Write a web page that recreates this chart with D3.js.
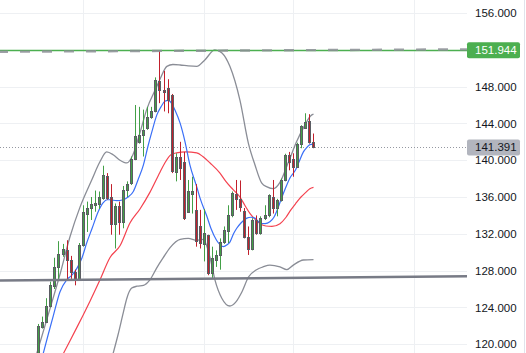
<!DOCTYPE html>
<html><head><meta charset="utf-8">
<script src="https://cdn.jsdelivr.net/npm/d3@7"></script>
<style>html,body{margin:0;padding:0;background:#fff;overflow:hidden}svg{display:block}</style>
</head><body>
<svg id="c" width="526" height="353"></svg>
<script>
// ---- data ----
const opens  = [118.8,121.9,122.45,124.2,126.3,128.4,129.8,130.2,129.2,127.9,127.0,130.8,134.2,134.8,135.1,135.2,135.9,138.3,136.0,133.1,135.0,133.3,136.8,137.5,140.1,142.0,142.7,143.5,144.7,145.3,148.6,147.6,147.8,147.1,138.75,140.3,139.8,134.4,136.3,134.6,132.8,130.9,131.9,127.7,129.2,129.7,131.1,132.3,134.0,136.3,135.8,134.5,131.7,130.4,133.5,132.05,133.7,134.0,136.0,134.8,135.65,137.85,140.6,140.1,139.3,141.8,143.5,144.3,142.0];
const highs  = [122.2,123.0,125.0,126.8,129.4,131.2,130.9,131.3,129.6,128.1,131.0,135.1,135.5,136.0,136.7,136.6,139.4,138.6,137.4,135.3,135.5,137.2,137.7,140.4,146.0,145.8,145.5,145.8,145.8,149.0,151.944,149.7,148.8,147.2,140.75,142.0,140.9,137.85,138.2,137.4,134.6,134.7,131.9,130.6,130.2,131.5,132.8,135.1,136.6,137.85,137.8,134.8,132.8,133.7,134.0,133.9,135.1,136.3,137.85,135.8,138.0,140.7,140.9,140.75,141.9,143.8,145.1,145.0,142.9];
const lows   = [117.5,121.7,122.3,124.0,126.0,127.0,129.5,127.0,127.1,126.4,127.0,130.6,132.2,133.5,134.4,134.7,135.7,135.7,131.9,130.4,131.9,132.6,136.0,137.3,140.0,141.8,140.4,143.3,144.5,145.2,146.2,145.3,145.1,138.6,137.7,137.85,133.5,134.3,134.2,130.6,130.4,129.0,127.5,127.2,128.4,128.1,130.9,131.0,133.8,134.6,134.4,131.5,129.7,130.2,131.9,131.9,133.5,133.8,134.2,133.9,135.5,137.7,138.9,138.2,139.2,141.3,143.4,141.8,141.3];
const closes = [122.0,122.4,124.15,126.4,128.4,129.8,130.4,129.2,127.8,127.0,130.8,134.4,134.8,135.2,135.35,136.0,138.4,135.9,133.1,135.0,133.3,136.8,137.4,140.1,142.6,142.7,143.3,144.7,145.4,148.7,147.6,147.4,146.5,138.8,140.4,139.1,133.7,136.6,136.7,131.2,131.0,132.1,127.7,129.4,129.7,131.1,132.4,134.0,136.4,135.75,134.9,131.7,130.4,133.5,132.05,133.7,134.0,136.2,134.8,135.65,137.85,140.6,139.8,139.3,141.8,143.7,144.2,142.0,141.391];

// Bollinger bands (candle index, price)
const upperIdx = [-0.5,2.8,5.25,7.7,10.2,13.1,15.1,16.8,18.4,20.1,21.8,23.3,25.05,26.7,29.2,30.0,31.7,33.2,35,37,39.1,41.1,43.6,45.35,47.3,49.8,51.9,53.5,55.2,56.5,58.0,59.7,61.8,63.8,65.6,67.5,68];
const upperVal = [119.0,123.9,127.6,131.65,134.9,137.85,139.8,140.9,140.6,140.0,139.7,140.6,143.0,145.5,148.0,148.8,150.2,150.4,150.35,150.25,150.2,150.9,152.0,151.65,150.2,146.5,141.8,139.5,137.5,137.1,136.9,137.6,139.8,142.0,143.6,144.9,145.0];
const lowerIdx = [18.4,19.6,20.9,21.8,23.0,24.3,25.9,27.5,29.2,30.8,32.5,35,37,39.1,40.7,42.4,43.6,45.3,47.3,48.8,50.3,51.9,53.9,55.5,57.2,59.7,61.4,63.0,65.5,68];
const lowerVal = [119.0,121.0,123.4,125.0,126.1,126.3,126.4,127.0,128.3,129.4,130.5,131.4,131.5,131.3,131.4,129.4,127.0,125.0,124.15,124.6,125.7,127.3,128.1,128.4,128.6,128.4,128.1,128.6,129.15,129.2];
// fast MA (blue)
const blueIdx = [1.1,2.3,3.6,5.25,6.9,8.2,9.5,10.7,11.85,13.2,14.7,15.9,16.9,17.6,19.3,20.9,22.1,23.4,24.55,25.9,27.1,28.0,29.2,30.25,31.2,32.05,32.7,33.7,35,36.2,37.4,39.1,39.9,41.6,42.6,44.0,44.9,45.7,46.6,47.3,48.2,49.0,50.1,51.5,52.5,53.5,54.7,56.0,57.2,58.2,59.2,60.2,61.0,62.2,63.5,64.4,65.5,66.4,67.1,68];
const blueVal = [119.0,121.0,123.1,125.7,127.0,127.5,128.3,129.4,131.0,132.6,134.4,135.35,135.7,135.7,135.6,135.7,136.0,136.6,137.85,139.5,141.65,143.1,144.9,145.8,146.4,146.5,146.3,145.45,144.0,142.0,139.5,137.1,135.9,133.9,132.6,131.3,130.8,130.6,130.8,131.1,132.0,132.6,133.2,133.7,133.8,133.7,133.2,133.1,133.3,133.8,134.8,136.0,136.9,138.1,138.9,139.8,140.9,141.4,141.7,141.75];
// slow MA (red)
const redIdx = [6.1,7.7,9.4,10.9,12.7,15.15,17.6,20.1,22.6,25.05,27.5,30,31.2,32.7,34.1,36.4,39.1,40.6,42.4,44.85,46.3,48.1,49.8,51.0,52.3,53.5,54.8,56.2,57.7,59.7,61.2,62.4,63.7,64.9,66.1,67.1,68];
const redVal = [119.0,120.35,121.8,123.1,124.7,127.0,129.4,130.7,133.2,134.7,136.5,138.7,139.7,140.6,140.8,140.9,140.8,140.4,139.7,138.6,137.7,136.8,136.0,135.1,134.2,133.6,133.1,132.85,132.8,133.1,133.8,134.6,135.35,136.0,136.5,136.9,137.05];

// drawn lines (index, price)
const greenLevel = 151.944;
const lastPrice = 141.391;
const dashTrendIdx = [-9.6, 106];
const dashTrendVal = [151.79, 152.05];
const greyTrendIdx = [-9.6, 106];
const greyTrendVal = [126.92, 127.38];

const priceTicks = [120,124,128,132,136,140,144,148,152,156];
const vGridIdx = [11, 41, 63, 93];

// ---- layout ----
const W = 526, H = 353, plotRight = 467;
const svg = d3.select("#c");
const x = d3.scaleLinear().domain([0, 68]).range([38.8, 313.5]);
const y = d3.scaleLinear().domain([120, 156]).range([344.2, 13]);
const font = "'Liberation Sans', Arial, sans-serif";

svg.append("rect").attr("width", W).attr("height", H).attr("fill", "#fff");
svg.append("defs").append("clipPath").attr("id", "plot")
  .append("rect").attr("x", 0).attr("y", 0).attr("width", plotRight).attr("height", H);

// grid
const grid = svg.append("g");
grid.selectAll("line.h").data(priceTicks).join("line")
  .attr("x1", 0).attr("x2", plotRight)
  .attr("y1", d => Math.round(y(d)) + 0.5).attr("y2", d => Math.round(y(d)) + 0.5)
  .attr("stroke", "#eef0f3").attr("stroke-width", 1);
grid.selectAll("line.v").data(vGridIdx).join("line")
  .attr("x1", d => Math.round(x(d)) + 0.5).attr("x2", d => Math.round(x(d)) + 0.5)
  .attr("y1", 0).attr("y2", H)
  .attr("stroke", "#eef0f3").attr("stroke-width", 1);

const plot = svg.append("g").attr("clip-path", "url(#plot)");

// last price dotted line
plot.append("line")
  .attr("x1", 0).attr("x2", plotRight)
  .attr("y1", Math.round(y(lastPrice)) + 0.5).attr("y2", Math.round(y(lastPrice)) + 0.5)
  .attr("stroke", "#9598a1").attr("stroke-width", 1).attr("stroke-dasharray", "1 2");

function series(idx, vals) { return idx.map((d, i) => [d, vals[i]]); }
const line = d3.line().x(d => x(d[0])).y(d => y(d[1])).curve(d3.curveMonotoneX);

plot.append("path").datum(series(upperIdx, upperVal)).attr("d", line)
  .attr("fill", "none").attr("stroke", "#8a8d96").attr("stroke-width", 1.3);
plot.append("path").datum(series(lowerIdx, lowerVal)).attr("d", line)
  .attr("fill", "none").attr("stroke", "#8a8d96").attr("stroke-width", 1.3);
plot.append("path").datum(series(redIdx, redVal)).attr("d", line)
  .attr("fill", "none").attr("stroke", "#f4424f").attr("stroke-width", 1.2);
plot.append("path").datum(series(blueIdx, blueVal)).attr("d", line)
  .attr("fill", "none").attr("stroke", "#3a6ff7").attr("stroke-width", 1.2);

// candles
const candles = opens.map((o, i) => ({ i, o, h: highs[i], l: lows[i], c: closes[i] }));
const cg = plot.append("g");
const upC = "#43a047", dnC = "#c1202c", border = "#5b5d63";
candles.forEach(d => {
  const px = Math.floor(x(d.i));
  const up = d.c >= d.o;
  const col = up ? upC : dnC;
  cg.append("line")
    .attr("x1", px + 0.5).attr("x2", px + 0.5)
    .attr("y1", y(d.h)).attr("y2", y(d.l))
    .attr("stroke", col).attr("stroke-width", 1);
  const top = Math.round(y(Math.max(d.o, d.c))) + 0.5;
  const bot = Math.round(y(Math.min(d.o, d.c))) + 0.5;
  cg.append("rect")
    .attr("x", px - 0.5).attr("width", 2)
    .attr("y", top).attr("height", Math.max(1, bot - top))
    .attr("fill", col).attr("stroke", border).attr("stroke-width", 1);
});

// trend lines
plot.append("line")
  .attr("x1", x(greyTrendIdx[0])).attr("x2", x(greyTrendIdx[1]))
  .attr("y1", y(greyTrendVal[0])).attr("y2", y(greyTrendVal[1]))
  .attr("stroke", "#787b86").attr("stroke-width", 2.4);
plot.append("line")
  .attr("x1", 0).attr("x2", plotRight)
  .attr("y1", Math.round(y(greenLevel)) + 0.5).attr("y2", Math.round(y(greenLevel)) + 0.5)
  .attr("stroke", "#4caf50").attr("stroke-width", 1.5);
plot.append("line")
  .attr("x1", x(dashTrendIdx[0])).attr("x2", x(dashTrendIdx[1]))
  .attr("y1", y(dashTrendVal[0])).attr("y2", y(dashTrendVal[1]))
  .attr("stroke", "#8d8f96").attr("stroke-opacity", 0.85).attr("stroke-width", 2.4)
  .attr("stroke-dasharray", "10 12").attr("stroke-dashoffset", 2);

// price axis
const axis = d3.axisRight(y).tickValues(priceTicks).tickFormat(d3.format(".3f"))
  .tickSizeInner(0).tickSizeOuter(0).tickPadding(8);
const ag = svg.append("g").attr("transform", `translate(${plotRight},0)`).call(axis);
ag.select(".domain").remove();
ag.selectAll("text").attr("fill", "#131722").style("font-family", font).style("font-size", "11.5px");

// right border
svg.append("line").attr("x1", 524.5).attr("x2", 524.5).attr("y1", 0).attr("y2", H)
  .attr("stroke", "#e0e3eb");

// price labels
function priceLabel(v, bg, fg) {
  const yy = y(v);
  svg.append("rect").attr("x", plotRight).attr("y", yy - 8).attr("width", 53).attr("height", 16)
    .attr("rx", 2).attr("fill", bg);
  svg.append("text").attr("x", plotRight + 8).attr("y", yy).attr("dy", "0.35em")
    .attr("fill", fg).style("font-family", font).style("font-size", "11.5px")
    .text(d3.format(".3f")(v));
}
priceLabel(greenLevel, "#4caf50", "#ffffff");
priceLabel(lastPrice, "#b2b5be", "#131722");
</script>
</body></html>
